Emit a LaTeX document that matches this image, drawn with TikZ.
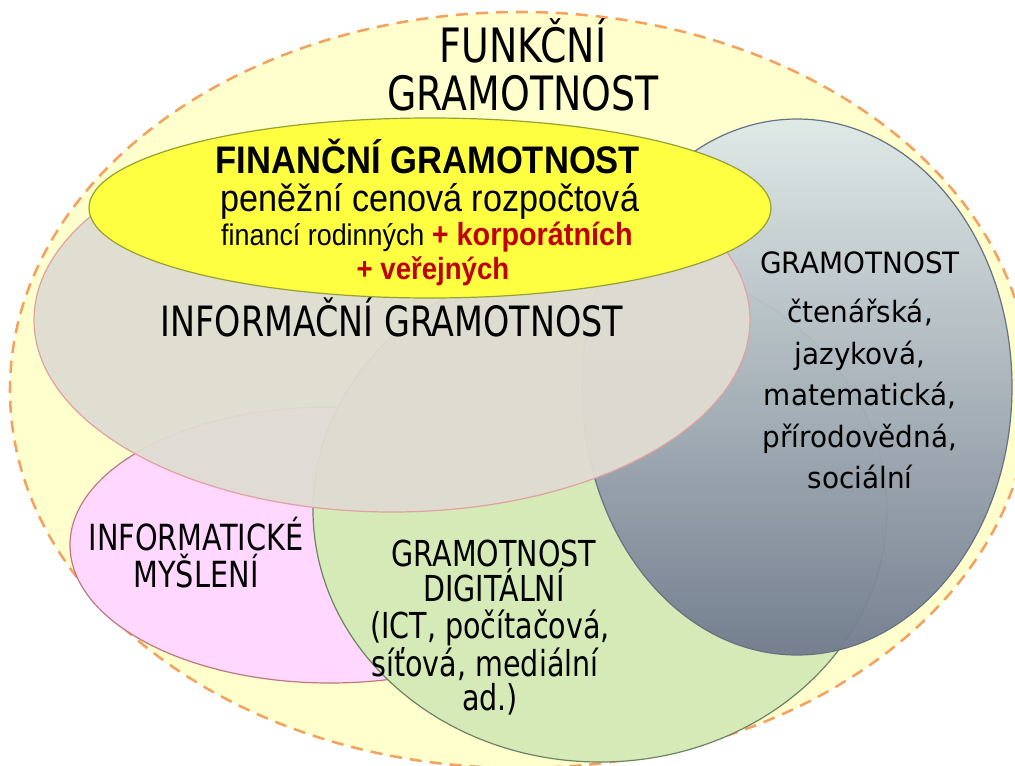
\documentclass[tikz,border=0pt]{standalone}
\usepackage{fontspec}
\usepackage{graphicx}
\setmainfont{DejaVu Sans}
\newfontfamily\dv{DejaVu Sans}
\newfontfamily\ar{Liberation Sans}
\definecolor{outerfill}{RGB}{255,255,206}
\definecolor{dashcol}{RGB}{243,162,95}
\definecolor{yelfill}{RGB}{255,255,66}
\definecolor{yelline}{RGB}{150,160,50}
\definecolor{infofill}{RGB}{223,220,210}
\definecolor{infoline}{RGB}{226,160,160}
\definecolor{pinkfill}{RGB}{255,215,255}
\definecolor{pinkline}{RGB}{190,120,130}
\definecolor{greenfill}{RGB}{214,234,184}
\definecolor{greenline}{RGB}{110,130,100}
\definecolor{bgtop}{RGB}{222,232,232}
\definecolor{bgbot}{RGB}{112,122,142}
\definecolor{bgline}{RGB}{100,115,130}
\definecolor{darkred}{RGB}{192,0,0}
\newcommand\tah[1]{\scalebox{0.8}[1]{#1}}
\newcommand\arl[1]{\scalebox{0.9}[1]{#1}}
\newcommand\fs[1]{\fontsize{#1}{#1}\selectfont}
\tikzset{
  setline/.style={line width=0.9pt},
  txt/.style={anchor=base, inner sep=0pt, text=black},
}
\begin{document}
\begin{tikzpicture}[x=0.75pt,y=-0.75pt]
\useasboundingbox (0,0) rectangle (1015,765);
\clip (0,0) rectangle (1015,765);
\fill[white] (0,0) rectangle (1015,765);
% outer set
\draw[fill=outerfill, draw=dashcol, line width=1.9pt, dash pattern=on 9pt off 6pt]
  (520,390) ellipse [x radius=510, y radius=378];
% informaticke mysleni
\draw[setline, fill=pinkfill, draw=pinkline] (330,545) ellipse [x radius=260, y radius=138];
% digital
\draw[setline, fill=greenfill, draw=greenline] (600,510) ellipse [x radius=287, y radius=252];
% gramotnost (blue-gray)
\shade[top color=bgtop, bottom color=bgbot, fill opacity=0.95] (797,387) ellipse [x radius=215, y radius=268];
\draw[setline, draw=bgline] (797,387) ellipse [x radius=215, y radius=268];
% informacni
\draw[setline, fill=infofill, fill opacity=0.95, draw=infoline] (392,320) ellipse [x radius=358, y radius=192];
% financni
\draw[setline, fill=yelfill, draw=yelline] (430,208) ellipse [x radius=341, y radius=90];

% texts
\node[txt, font=\dv\fs{35.5pt}] (f1) at (523,62) {\tah{FUNKČNÍ}};
\node[txt, font=\dv\fs{35.5pt}] (f2) at (523,110) {\tah{GRAMOTNOST}};

\node[txt, font=\ar\bfseries\fs{28.8pt}] (y1) at (428,173) {\arl{FINANČNÍ GRAMOTNOST}};
\node[txt, font=\ar\fs{28.5pt}] (y2) at (430,211) {\arl{peněžní cenová rozpočtová}};
\node[txt, font=\ar\fs{22.4pt}] (y3) at (427,245) {\arl{financí rodinných {\bfseries\fs{24pt}\color{darkred}+ korporátních}}};
\node[txt, font=\ar\bfseries\fs{23pt}, text=darkred] (y4) at (433,279) {\arl{+ veřejných}};

\node[txt, font=\dv\fs{31.3pt}] (i1) at (392,336) {\tah{INFORMAČNÍ GRAMOTNOST}};

\node[txt, font=\dv\fs{22pt}] (g1) at (860,273) {\scalebox{0.95}[1]{GRAMOTNOST}};
\node[txt, font=\dv\fs{22pt}] (g2) at (860,322) {\scalebox{0.95}[1]{čtenářská,}};
\node[txt, font=\dv\fs{22pt}] (g3) at (860,364) {\scalebox{0.95}[1]{jazyková,}};
\node[txt, font=\dv\fs{22pt}] (g4) at (860,405) {\scalebox{0.95}[1]{matematická,}};
\node[txt, font=\dv\fs{22pt}] (g5) at (860,447) {\scalebox{0.95}[1]{přírodovědná,}};
\node[txt, font=\dv\fs{22pt}] (g6) at (860,488) {\scalebox{0.95}[1]{sociální}};

\node[txt, font=\dv\fs{27pt}] (m1) at (196,550) {\tah{INFORMATICKÉ}};
\node[txt, font=\dv\fs{27pt}] (m2) at (196,587) {\tah{MYŠLENÍ}};

\node[txt, font=\dv\fs{26.8pt}] (d1) at (494,566) {\tah{GRAMOTNOST}};
\node[txt, font=\dv\fs{26.8pt}] (d2) at (494,601) {\tah{DIGITÁLNÍ}};
\node[txt, font=\dv\fs{26.8pt}] (d3) at (490,638) {\tah{(ICT, počítačová,}};
\node[txt, font=\dv\fs{26.8pt}] (d4) at (485,676) {\tah{síťová, mediální}};
\node[txt, font=\dv\fs{26.8pt}] (d5) at (490,710) {\tah{ad.)}};
\end{tikzpicture}
\end{document}
